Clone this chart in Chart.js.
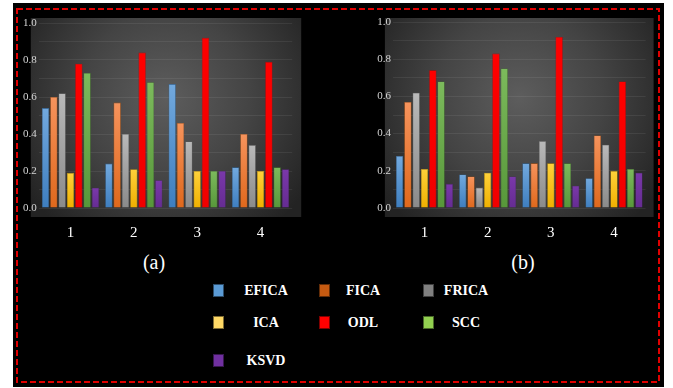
<!DOCTYPE html>
<html>
<head>
<meta charset="utf-8">
<script src="https://cdn.jsdelivr.net/npm/chart.js@4/dist/chart.umd.min.js"></script>
<style>
  html, body { margin:0; padding:0; background:#ffffff; width:673px; height:388px; overflow:hidden; }
  #frame { position:absolute; left:13px; top:3px; width:651px; height:384px; background:#000; }
  canvas { position:absolute; }
  .panel { position:absolute; color:#fff; font-family:"Liberation Serif","Times New Roman",serif; font-size:20px; line-height:24px; transform:translateX(-50%); }
  .lg-box { position:absolute; width:11px; height:13px; box-sizing:border-box; border:1px solid rgba(0,0,0,0.5); }
  .lg-txt { position:absolute; color:#fff; font-family:"Liberation Serif","Times New Roman",serif; font-weight:bold; font-size:14px; line-height:16px; transform:translateX(-50%); white-space:nowrap; }
</style>
</head>
<body>
<div id="frame"></div>
<svg style="position:absolute;left:0;top:0" width="673" height="388">
  <rect x="17" y="9" width="642" height="373" fill="none" stroke="#e00000" stroke-width="2" stroke-dasharray="6 3"/>
</svg>
<canvas id="chartA" width="290" height="230" style="left:20px;top:10px"></canvas>
<canvas id="chartB" width="295" height="230" style="left:372px;top:10px"></canvas>
<div class="panel" style="left:154px;top:250px">(a)</div>
<div class="panel" style="left:523px;top:250px">(b)</div>
<div id="legend"></div>
<script>
// ---- data ----
const categories = ['1', '2', '3', '4'];
const seriesNames = ['EFICA', 'FICA', 'FRICA', 'ICA', 'ODL', 'SCC', 'KSVD'];
const yTickValues = [0.0, 0.2, 0.4, 0.6, 0.8, 1.0];

// panel (a)
const a_EFICA = [0.54, 0.24, 0.67, 0.22];
const a_FICA  = [0.60, 0.57, 0.46, 0.40];
const a_FRICA = [0.62, 0.40, 0.36, 0.34];
const a_ICA   = [0.19, 0.21, 0.20, 0.20];
const a_ODL   = [0.78, 0.84, 0.92, 0.79];
const a_SCC   = [0.73, 0.68, 0.20, 0.22];
const a_KSVD  = [0.11, 0.15, 0.20, 0.21];

// panel (b)
const b_EFICA = [0.28, 0.18, 0.24, 0.16];
const b_FICA  = [0.57, 0.17, 0.24, 0.39];
const b_FRICA = [0.62, 0.11, 0.36, 0.34];
const b_ICA   = [0.21, 0.19, 0.24, 0.20];
const b_ODL   = [0.74, 0.83, 0.92, 0.68];
const b_SCC   = [0.68, 0.75, 0.24, 0.21];
const b_KSVD  = [0.13, 0.17, 0.12, 0.19];

// ---- styles ----
const barTop    = ['#72a9de', '#f6935c', '#b9b9b9', '#ffd13a', '#ff0000', '#7cba5c', '#7a38aa'];
const barBottom = ['#3e7ebf', '#df681c', '#8a8a8a', '#efb000', '#f00000', '#57973a', '#652c92'];
const barBorder = ['#2f6396', '#b0520f', '#6a6a6a', '#c08e00', '#c00000', '#44772c', '#4e2170'];
const legendColors = ['#5b9bd5', '#c55a11', '#808080', '#ffd966', '#ff0000', '#92d050', '#7030a0'];
const serifFamily = '"Liberation Serif", "Times New Roman", serif';

const bgPlugin = {
  id: 'darkBox',
  beforeDraw(chart, args, opts) {
    const ca = chart.chartArea, c = chart.ctx;
    const l = ca.left - opts.l, t = ca.top - opts.t, r = ca.right + opts.r, b = ca.bottom + opts.b;
    const cx = (l + r) / 2, cy = t + (b - t) * 0.4;
    const g = c.createRadialGradient(cx, cy, 0, cx, cy, (r - l) * 0.62);
    g.addColorStop(0, '#5d5d5d');
    g.addColorStop(0.5, '#444444');
    g.addColorStop(1, '#232323');
    c.save();
    c.fillStyle = g;
    c.fillRect(l, t, r - l, b - t);
    c.restore();
  }
};

function makeDatasets(values) {
  return seriesNames.map((name, i) => ({
    label: name,
    data: values[i],
    backgroundColor: (ctx) => {
      const chart = ctx.chart;
      if (!chart.chartArea || ctx.raw === undefined) return barTop[i];
      const y = chart.scales.y;
      const yt = y.getPixelForValue(ctx.raw), yb = y.getPixelForValue(0);
      const g = chart.ctx.createLinearGradient(0, yt, 0, yb);
      g.addColorStop(0, barTop[i]);
      g.addColorStop(1, barBottom[i]);
      return g;
    },
    borderColor: barBorder[i],
    borderWidth: 0.6,
    barPercentage: 0.88,
    categoryPercentage: 0.92
  }));
}

function makeChart(id, values, yWidth, padTop, padRight, box) {
  return new Chart(document.getElementById(id), {
    type: 'bar',
    data: { labels: categories, datasets: makeDatasets(values) },
    plugins: [bgPlugin],
    options: {
      responsive: false,
      animation: false,
      devicePixelRatio: 1,
      layout: { padding: { left: 0, top: padTop, right: padRight, bottom: 0 }, autoPadding: false },
      plugins: { legend: { display: false }, tooltip: { enabled: false }, darkBox: box },
      scales: {
        x: {
          grid: { display: false, drawTicks: false, tickLength: 0 },
          border: { display: false },
          ticks: { color: '#ffffff', padding: 16, font: { family: serifFamily, size: 15 } },
          afterFit: (s) => { s.height = 32; }
        },
        y: {
          min: 0, max: 1.0,
          afterBuildTicks: (s) => { s.ticks = [0,0.1,0.2,0.3,0.4,0.5,0.6,0.7,0.8,0.9,1.0].map(v => ({ value: v })); },
          grid: { color: 'rgba(255,255,255,0.07)', drawTicks: false, tickLength: 0 },
          border: { display: false },
          ticks: {
            color: '#d4d4d4', padding: 2,
            font: { family: serifFamily, size: 11 },
            callback: (v) => yTickValues.some(t => Math.abs(t - v) < 1e-6) ? Number(v).toFixed(1) : ''
          },
          afterFit: (s) => { s.width = yWidth; }
        }
      }
    }
  });
}

makeChart('chartA', [a_EFICA, a_FICA, a_FRICA, a_ICA, a_ODL, a_SCC, a_KSVD], 18.8, 13, 17.8,
  { l: 8, t: 5, r: 9, b: 9 });
makeChart('chartB', [b_EFICA, b_FICA, b_FRICA, b_ICA, b_ODL, b_SCC, b_KSVD], 20.9, 12, 21.4,
  { l: 8, t: 4, r: 8, b: 9 });

// ---- legend (built from series names / colours) ----
const legendCols = [[213, 266], [319, 363], [423, 466]];
const legendRows = [291, 323, 361];
const lg = document.getElementById('legend');
seriesNames.forEach((name, i) => {
  const col = legendCols[i % 3], row = legendRows[Math.floor(i / 3)];
  const box = document.createElement('div');
  box.className = 'lg-box';
  box.style.left = col[0] + 'px';
  box.style.top = (row - 7) + 'px';
  box.style.background = legendColors[i];
  lg.appendChild(box);
  const t = document.createElement('div');
  t.className = 'lg-txt';
  t.textContent = name;
  t.style.left = col[1] + 'px';
  t.style.top = (row - 8) + 'px';
  lg.appendChild(t);
});
</script>
</body>
</html>
